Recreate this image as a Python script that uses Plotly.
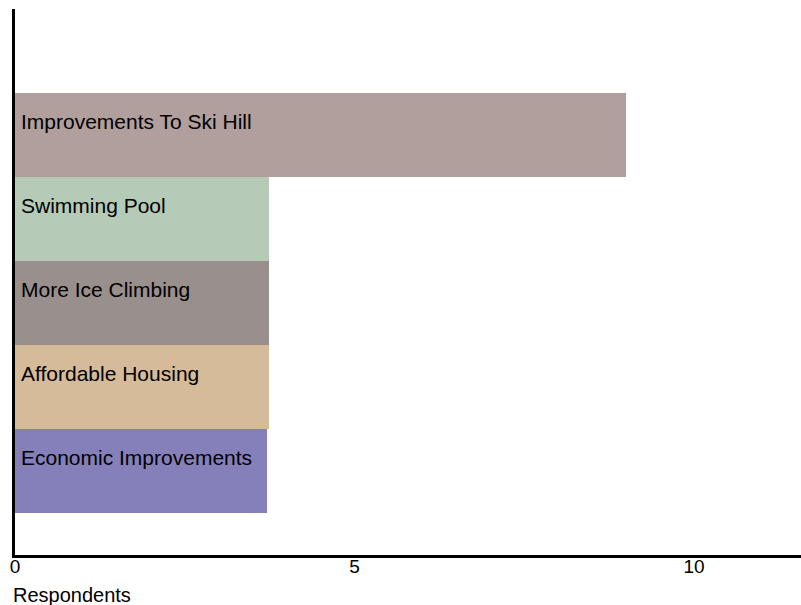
import plotly.graph_objects as go

categories = ["Improvements To Ski Hill", "Swimming Pool", "More Ice Climbing",
              "Affordable Housing", "Economic Improvements"]
values = [9.0, 3.74, 3.74, 3.74, 3.71]
colors = ["#b19f9e", "#b5cab7", "#998f8c", "#d6bb9a", "#8580ba"]
tick_vals = [0, 5, 10]
x_title = "Respondents"

family = "Liberation Sans, Arial, sans-serif"

fig = go.Figure(go.Bar(
    y=categories, x=values, orientation="h",
    marker=dict(color=colors, line=dict(width=0)),
    hoverinfo="skip",
))

annotations = [
    dict(x=0, y=c, xref="x", yref="y", text=c, showarrow=False,
         xanchor="left", yanchor="middle", xshift=4, yshift=14,
         font=dict(family=family, size=21, color="#000000"))
    for c in categories
]
annotations.append(dict(x=0, y=0, xref="paper", yref="paper", text=x_title,
                        showarrow=False, xanchor="left", yanchor="top",
                        xshift=-4, yshift=-27,
                        font=dict(family=family, size=20, color="#000000")))

fig.update_layout(
    width=801, height=605,
    margin=dict(l=15, r=0, t=9, b=50),
    paper_bgcolor="white", plot_bgcolor="white",
    bargap=0, showlegend=False,
    font=dict(family=family, size=19, color="#000000"),
    annotations=annotations,
    xaxis=dict(range=[0, 11.576], tickvals=tick_vals, showgrid=False,
               zeroline=False, showline=True, linecolor="#000000", linewidth=3,
               ticks="", ticklabelstandoff=-8,
               tickfont=dict(family=family, size=19, color="#000000")),
    yaxis=dict(range=[5, -1.5], showticklabels=False, showgrid=False,
               zeroline=False, showline=True, linecolor="#000000", linewidth=3,
               ticks=""),
)

fig.write_html("out.html",
               config={"displayModeBar": False},
               post_script="document.body.style.margin='0';document.body.style.overflow='hidden';")
